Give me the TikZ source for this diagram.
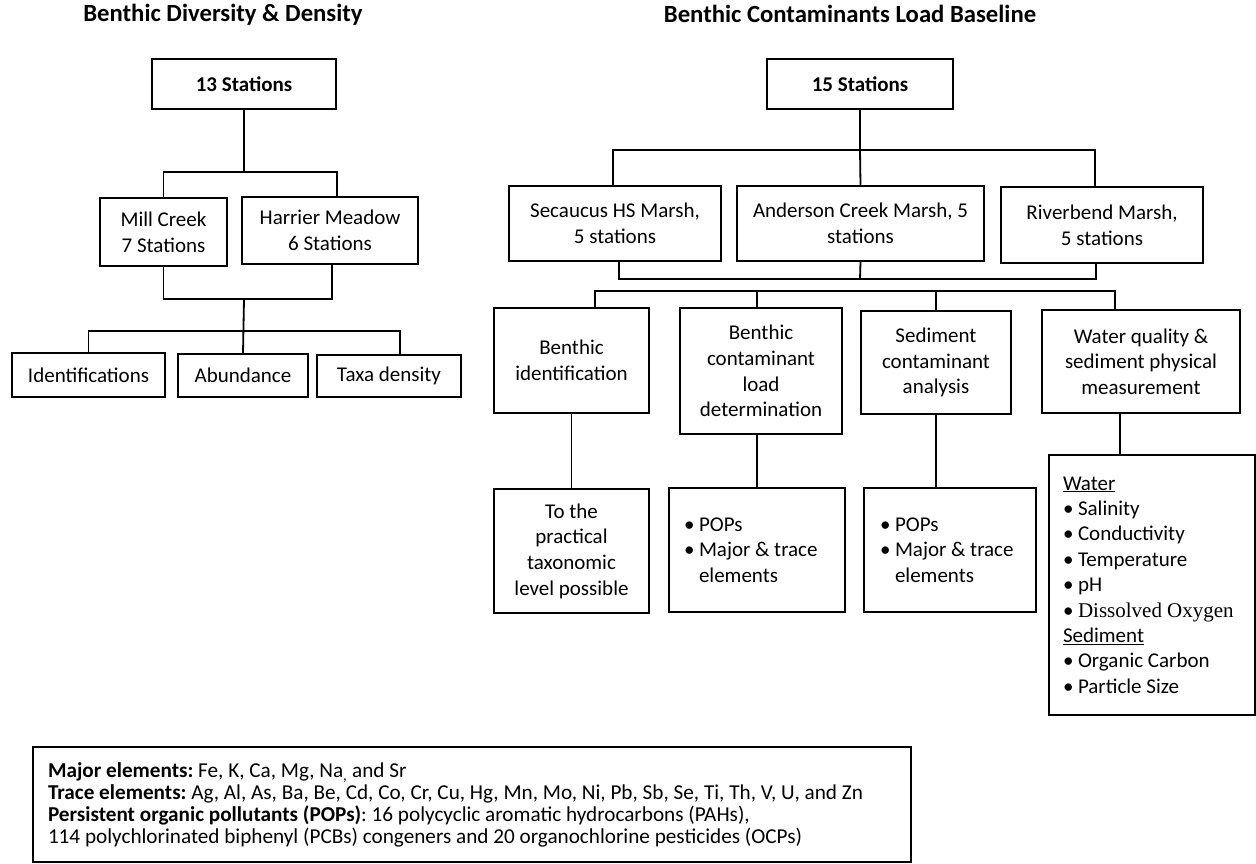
\documentclass[tikz,border=0pt]{standalone}
\usepackage{fontspec}
\setmainfont{Carlito}
\newfontfamily\timesfont{Liberation Serif}
\usetikzlibrary{calc}

\newcommand{\blt}{\makebox[15pt][l]{\textbullet}}
\newcommand{\bltgap}{\hspace*{15pt}}
\frenchspacing

\begin{document}
\begin{tikzpicture}[x=1pt,y=-1pt,line width=1.8pt,
	box/.style={draw,align=center,inner sep=0pt,font=\fontsize{21}{25.6}\selectfont},
	listbox/.style={box,align=flush left},
	heading/.style={font=\fontsize{24.7}{29}\selectfont\bfseries}]
	\useasboundingbox (0,0) rectangle (1256,863);
	% titles
	\draw (223,15) node(ttlA) [heading] {Benthic Diversity \& Density};
	\draw (850,14) node(ttlB) [heading] {Benthic Contaminants Load Baseline};
	% left tree
	\draw (244,84) node(st13) [box,minimum width=184pt,minimum height=50pt] {\bfseries 13 Stations};
	\draw (163.5,232) node(mill) [box,minimum width=127pt,minimum height=68pt] {Mill Creek\\7 Stations};
	\draw (330,230.5) node(harr) [box,minimum width=176pt,minimum height=67pt] {Harrier Meadow\\6 Stations};
	\draw (88.5,375) node(ident) [box,minimum width=153pt,minimum height=44pt] {Identifications};
	\draw (243,375.5) node(abund) [box,minimum width=130pt,minimum height=43pt] {Abundance};
	\draw (389,376) node(taxa) [box,minimum width=144pt,minimum height=42pt] {Taxa density};
	\coordinate (aj1) at (244,172);
	\coordinate (aj2) at (244,299);
	\coordinate (aj3) at (244,331);
	\draw (st13.south) -- (aj1);
	\draw (mill.north) |- (aj1) -| ([xshift=7pt]harr.north);
	\draw (mill.south) |- (aj2) -| ([xshift=2pt]harr.south);
	\draw (aj2) -- (abund.north);
	\draw (ident.north) |- (aj3) -| ([xshift=11pt]taxa.north);
	% right tree
	\draw (860,84) node(st15) [box,minimum width=186pt,minimum height=50pt] {\bfseries 15 Stations};
	\draw (615,223.5) node(sec) [box,minimum width=212pt,minimum height=75pt] {Secaucus HS Marsh,\\5 stations};
	\draw (860.5,223.5) node(ander) [box,minimum width=247pt,minimum height=75pt] {Anderson Creek Marsh, 5\\stations};
	\draw (1102,225) node(river) [box,minimum width=202pt,minimum height=76pt] {Riverbend Marsh,\\5 stations};
	\coordinate (bj1) at (860,150);
	\coordinate (bj2) at (860,279);
	\draw (st15.south) -- (bj1);
	\draw ([xshift=-2pt]sec.north) |- (bj1) -| ([xshift=-7pt]river.north);
	\draw (bj1) -- (ander.north);
	\draw ([xshift=4pt]sec.south) |- (bj2) -| ([xshift=-6pt]river.south);
	\draw (ander.south) -- (bj2);
	\draw (571.5,360.5) node(bid) [box,minimum width=155pt,minimum height=105pt] {Benthic\\identification};
	\draw (761,371) node(bcl) [box,minimum width=162pt,minimum height=126pt] {Benthic\\contaminant\\load\\determination};
	\draw (936,362.5) node(sca) [box,minimum width=150pt,minimum height=103pt] {Sediment\\contaminant\\analysis};
	\draw (1141,361.5) node(wq) [box,minimum width=198pt,minimum height=103pt] {Water quality \&\\sediment physical\\measurement};
	\coordinate (bj3) at (757,291);
	\draw ([xshift=23.5pt]bid.north) |- (bj3) -| ([xshift=-26pt]wq.north);
	\draw ([xshift=-4pt]bcl.north) -- (bj3);
	\draw (sca.north) -- (sca.north |- bj3);
	\draw (571.5,551) node(taxo) [box,minimum width=155pt,minimum height=124pt] {To the\\practical\\taxonomic\\level possible};
	\draw (757,550) node(pops1) [listbox,minimum width=176pt,minimum height=124pt,text width=146pt] {\blt POPs\\\blt Major \& trace\\\bltgap elements};
	\draw (950,550) node(pops2) [listbox,minimum width=172pt,minimum height=124pt,text width=140pt] {\blt POPs\\\blt Major \& trace\\\bltgap elements};
	\draw (1152,585) node(wlist) [listbox,minimum width=206pt,minimum height=260pt,text width=178pt,font=\fontsize{21}{25.4}\selectfont] {\underline{Water}\\\blt Salinity\\\blt Conductivity\\\blt Temperature\\\blt pH\\\blt{\timesfont Dissolved Oxygen}\\\underline{Sediment}\\\blt Organic Carbon\\\blt Particle Size};
	\draw (bid.south) -- (taxo.north);
	\draw (pops1.north |- bcl.south) -- (pops1.north);
	\draw (sca.south) -- (sca.south |- pops2.north);
	\draw ([xshift=-21pt]wq.south) -- ([xshift=-21pt]wq.south |- wlist.north);
	% key
	\draw (472,804.5) node(note) [listbox,minimum width=878pt,minimum height=115pt,text width=848pt,font=\fontsize{21.2}{22}\selectfont] {\textbf{Major elements:} Fe, K, Ca, Mg, Na\textsubscript{,} and Sr\\\textbf{Trace elements:} Ag, Al, As, Ba, Be, Cd, Co, Cr, Cu, Hg, Mn, Mo, Ni, Pb, Sb, Se, Ti, Th, V, U, and Zn\\\textbf{Persistent organic pollutants (POPs)}: 16 polycyclic aromatic hydrocarbons (PAHs),\\114 polychlorinated biphenyl (PCBs) congeners and 20 organochlorine pesticides (OCPs)};
\end{tikzpicture}
\end{document}
